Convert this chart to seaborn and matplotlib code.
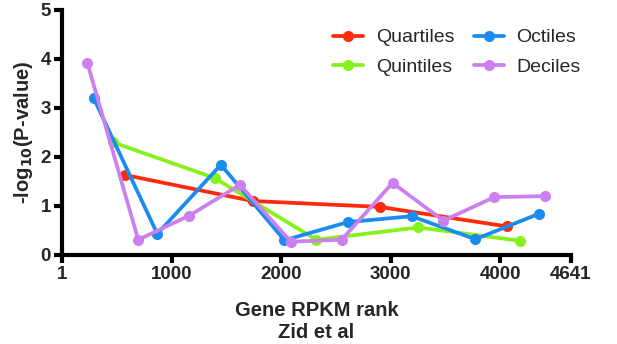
import numpy as np
import pandas as pd
import seaborn as sns
import matplotlib
matplotlib.use("Agg")
import matplotlib.pyplot as plt

N = 4641
quartile_x = [580, 1740, 2900, 4061]
quartile_y = [1.63, 1.10, 0.98, 0.58]
quintile_x = [464, 1392, 2320, 3249, 4177]
quintile_y = [2.30, 1.57, 0.31, 0.56, 0.29]
octile_x = [290, 870, 1450, 2030, 2610, 3190, 3771, 4351]
octile_y = [3.20, 0.43, 1.84, 0.30, 0.67, 0.79, 0.32, 0.84]
decile_x = [232, 696, 1160, 1624, 2088, 2552, 3016, 3480, 3945, 4409]
decile_y = [3.92, 0.31, 0.80, 1.43, 0.27, 0.31, 1.47, 0.70, 1.18, 1.20]

series_names = ["Quartiles", "Quintiles", "Octiles", "Deciles"]
colors = ["#FF2A0A", "#86F21C", "#1A8CF0", "#CC80F0"]
x_ticks = [1, 1000, 2000, 3000, 4000, 4641]
y_ticks = [0, 1, 2, 3, 4, 5]

frames = []
for name, xs, ys in zip(series_names,
                        [quartile_x, quintile_x, octile_x, decile_x],
                        [quartile_y, quintile_y, octile_y, decile_y]):
    frames.append(pd.DataFrame({"rank": xs, "val": ys, "series": name}))
df = pd.concat(frames, ignore_index=True)

sns.set_theme(style="white")
plt.rcParams["font.family"] = ["Liberation Sans", "DejaVu Sans"]
plt.rcParams["font.weight"] = "bold"

fig = plt.figure(figsize=(6.17, 3.44), dpi=100)
ax = fig.add_axes([0.1005, 0.259, 0.8245, 0.712])

sns.lineplot(data=df, x="rank", y="val", hue="series", hue_order=series_names,
             palette=colors, marker="o", markersize=8, markeredgewidth=0,
             linewidth=2.7, sort=False, ax=ax)

ax.set_xlim(1, N)
ax.set_ylim(0, 5)
ax.set_xticks(x_ticks)
ax.set_xticklabels([str(t) for t in x_ticks], fontsize=13.5, fontweight="bold")
ax.set_yticks(y_ticks)
ax.set_yticklabels([str(t) for t in y_ticks], fontsize=13.5, fontweight="bold")
ax.set_xlabel("Gene RPKM rank\nZid et al", fontsize=14.5, fontweight="bold",
              labelpad=13, linespacing=1.18)
ax.set_ylabel(r"-log$_{\mathbf{10}}$(P-value)", fontsize=14.5, fontweight="bold", labelpad=4)

for s in ["top", "right"]:
    ax.spines[s].set_visible(False)
for s in ["left", "bottom"]:
    ax.spines[s].set_color("black")
    ax.spines[s].set_linewidth(3)
ax.tick_params(axis="both", direction="out", length=6, width=3, color="black",
               bottom=True, left=True, pad=2)
for line in ax.lines:
    line.set_clip_on(False)

leg = ax.legend(ncol=2, frameon=False, fontsize=14, loc="upper right",
                bbox_to_anchor=(1.054, 0.995), handlelength=1.55, columnspacing=1.0,
                labelspacing=0.6, handletextpad=0.65)
for t in leg.get_texts():
    t.set_fontweight("normal")

fig.savefig("out.png", dpi=100)
